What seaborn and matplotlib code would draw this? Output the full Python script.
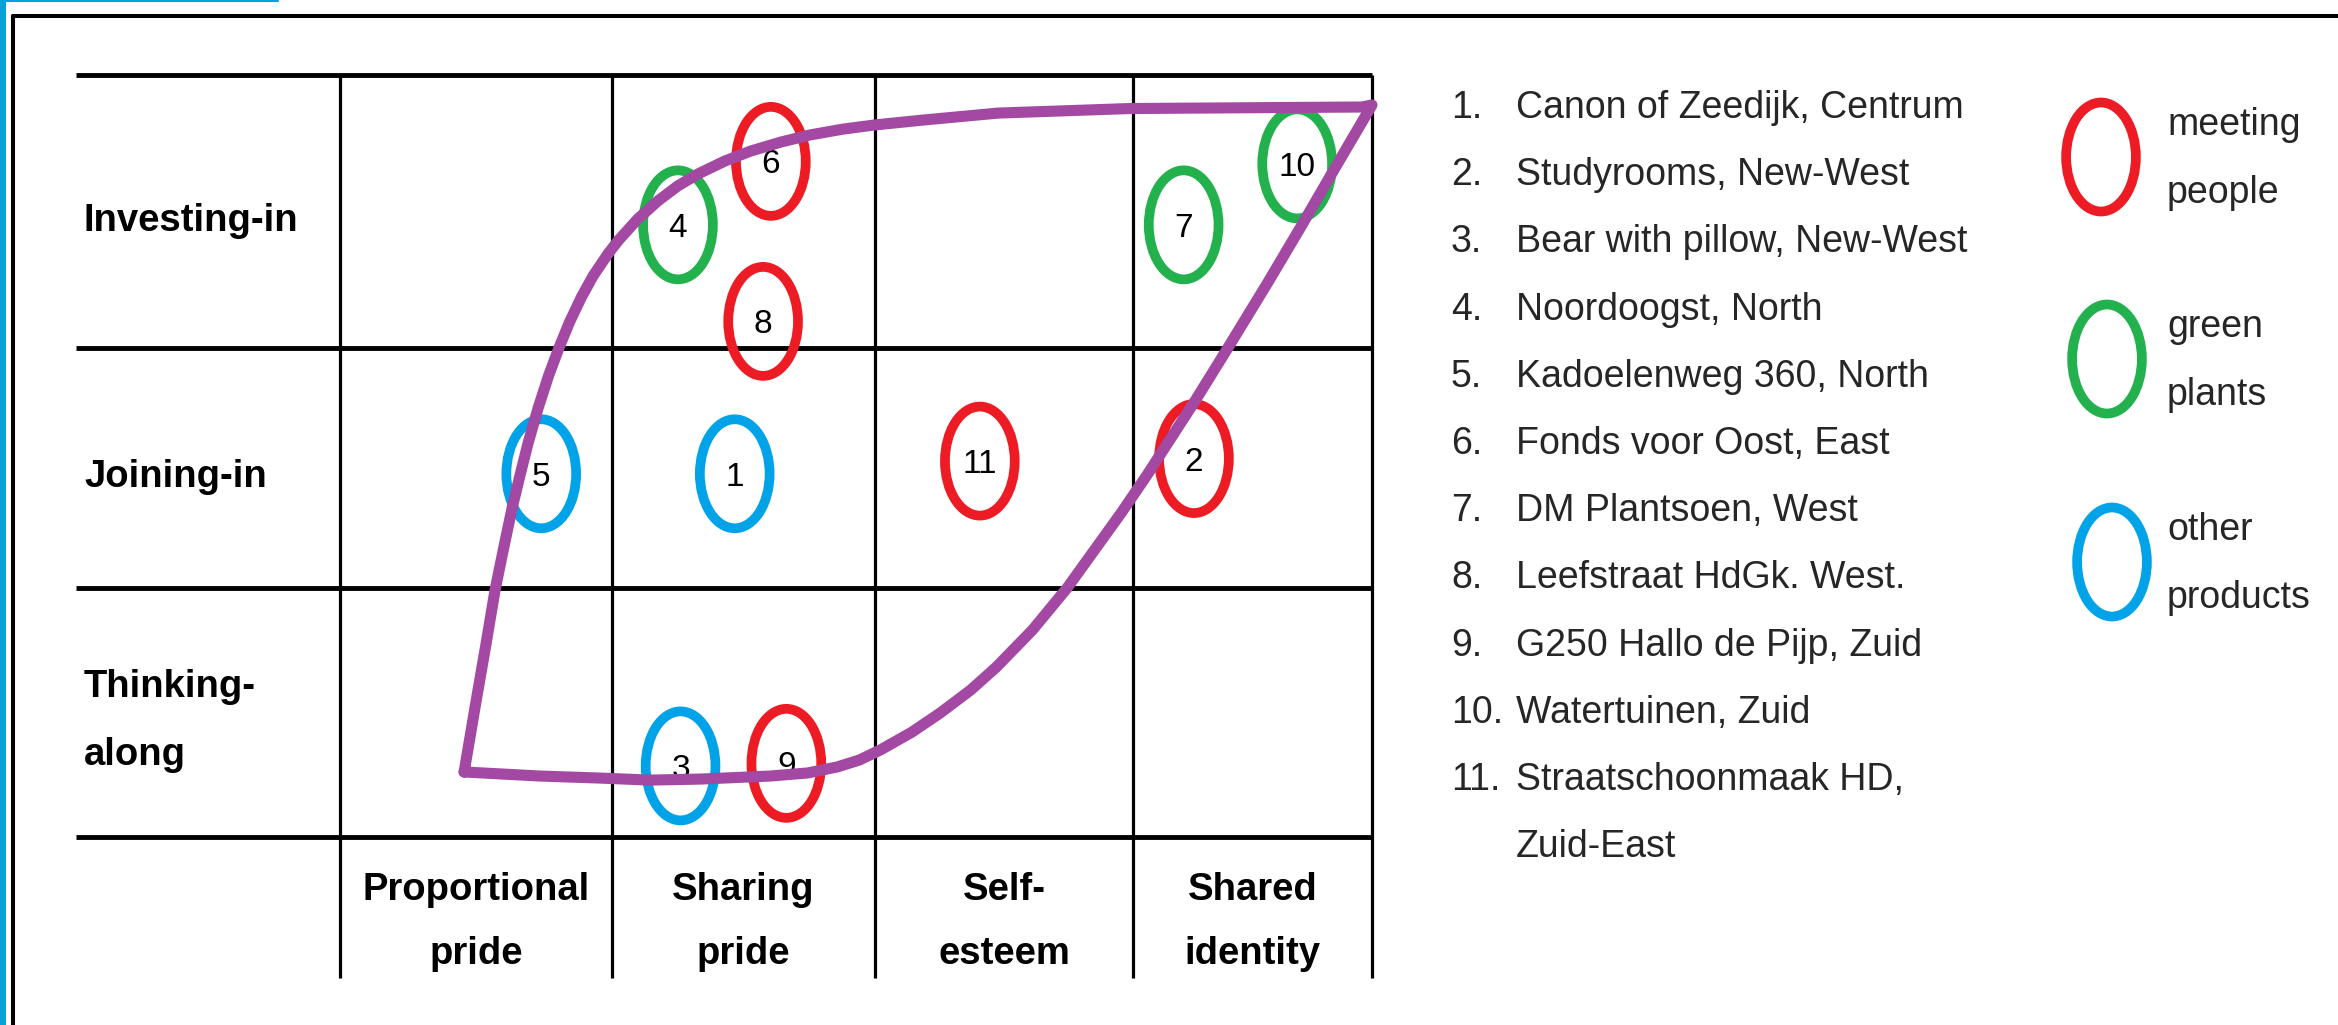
import matplotlib.pyplot as plt
import numpy as np
import pandas as pd
import seaborn as sns
from matplotlib.lines import Line2D
from matplotlib.path import Path
from matplotlib.transforms import Affine2D

# Table categories (rows listed top to bottom).
rows = ["Investing-in", "Joining-in", "Thinking-\nalong"]
columns = ["Proportional\npride", "Sharing\npride", "Self-\nesteem", "Shared\nidentity"]

# Projects: x in column units (0-4), y in row units (0 = bottom of the table).
project_ids = [1, 2, 3, 4, 5, 6, 7, 8, 9, 10, 11]
project_names = [
    "Canon of Zeedijk, Centrum",
    "Studyrooms, New-West",
    "Bear with pillow, New-West",
    "Noordoogst, North",
    "Kadoelenweg 360, North",
    "Fonds voor Oost, East",
    "DM Plantsoen, West",
    "Leefstraat HdGk. West.",
    "G250 Hallo de Pijp, Zuid",
    "Watertuinen, Zuid",
    "Straatschoonmaak HD,\nZuid-East",
]
project_kind = [
    "other products", "meeting people", "other products", "green plants",
    "other products", "meeting people", "green plants", "meeting people",
    "meeting people", "green plants", "meeting people",
]
project_x = [1.53, 3.31, 1.32, 1.31, 0.78, 1.67, 3.27, 1.64, 1.73, 3.71, 2.48]
project_y = [1.43, 1.49, 0.28, 2.41, 1.43, 2.66, 2.41, 2.03, 0.29, 2.65, 1.48]

kinds = ["meeting people", "green plants", "other products"]
kind_labels = ["meeting\npeople", "green\nplants", "other\nproducts"]
palette = {"meeting people": "#ED1C24", "green plants": "#22B14C", "other products": "#00A2E8"}

# Purple outline drawn around the projects (same units as the projects).
outline_x = [0.481, 0.525, 0.564, 0.601, 0.632, 0.667, 0.697, 0.728, 0.768, 0.808,
             0.850, 0.890, 0.936, 0.981, 1.038, 1.080, 1.154, 1.232, 1.309, 1.387,
             1.491, 1.593, 1.709, 1.822, 1.950, 2.070, 2.264, 2.550, 3.062, 3.961,
             4.000,
             3.859, 3.724, 3.595, 3.441, 3.316, 3.128, 3.028, 2.818, 2.684, 2.544,
             2.445, 2.326, 2.217, 2.095, 2.013, 1.928, 1.812, 1.667,
             1.395, 1.202, 1.008, 0.775, 0.481]
outline_y = [0.256, 0.520, 0.748, 0.972, 1.126, 1.295, 1.421, 1.547, 1.689, 1.815,
             1.929, 2.028, 2.126, 2.209, 2.295, 2.350, 2.433, 2.504, 2.563, 2.610,
             2.661, 2.701, 2.736, 2.764, 2.787, 2.803, 2.823, 2.850, 2.868, 2.874,
             2.882,
             2.638, 2.402, 2.181, 1.925, 1.720, 1.425, 1.276, 0.980, 0.815, 0.669,
             0.579, 0.488, 0.413, 0.343, 0.303, 0.276, 0.252, 0.240,
             0.228, 0.224, 0.232, 0.240, 0.256]

# Table layout in the same units.
col_edges = [0.0, 1.054, 2.074, 3.074, 4.0]
row_edges = [0.0, 0.98, 1.925, 3.0]

W, H, DPI = 2338, 1025, 100
X0, XU = 340, 258   # pixel of column edge 0, pixels per column unit
Y0, YU = 837, 254   # pixel of row edge 0, pixels per row unit


def px(x):
    return (x - X0) / XU


def py(y):
    return (Y0 - y) / YU


sns.set_theme(style="white")
plt.rcParams["font.family"] = ["Liberation Sans", "DejaVu Sans"]

fig = plt.figure(figsize=(W / DPI, H / DPI), dpi=DPI)
fig.patch.set_facecolor("white")
ax = fig.add_axes([0, 0, 1, 1])
ax.set_axis_off()

# Table grid.
for v in row_edges:
    ax.plot([px(76), col_edges[-1]], [v, v], color="black", lw=3.5,
            solid_capstyle="butt", zorder=1)
for u in col_edges:
    ax.plot([u, u], [py(978), row_edges[-1]], color="black", lw=2.3,
            solid_capstyle="butt", zorder=1)

for i, label in enumerate(rows):
    center_px = Y0 - (row_edges[2 - i] + row_edges[3 - i]) / 2 * YU
    n_lines = label.count("\n")
    ax.text(px(84), py(center_px + 19 + 33 * n_lines), label, ha="left",
            va="baseline", fontsize=27.5, fontweight="bold", linespacing=2.12,
            color="black")

for j, label in enumerate(columns):
    uc = (col_edges[j] + col_edges[j + 1]) / 2
    ax.text(uc, py(964), label, ha="center", va="baseline", fontsize=27.5,
            fontweight="bold", linespacing=2.0, color="black")

# Project circles (stretched ellipses as in the original).
ellipse = Path.unit_circle().transformed(Affine2D().scale(0.64, 1.0))
df = pd.DataFrame({"x": project_x, "y": project_y, "kind": project_kind})
sns.scatterplot(data=df, x="x", y="y", hue="kind", palette=palette,
                marker=ellipse, s=6160, linewidth=7, legend=False, ax=ax, zorder=3)
pts = ax.collections[-1]
pts.set_edgecolors(pts.get_facecolors())
pts.set_facecolors("none")

for pid, x, y in zip(project_ids, project_x, project_y):
    ax.text(x, y, str(pid), ha="center", va="center_baseline", fontsize=24,
            color="black", zorder=4)

outline = pd.DataFrame({"x": outline_x, "y": outline_y})
sns.lineplot(data=outline, x="x", y="y", sort=False, estimator=None,
             color="#A349A4", lw=8, ax=ax, zorder=5)

# Numbered project list.
line = 0
for pid, name in zip(project_ids, project_names):
    for k, part in enumerate(name.split("\n")):
        yb = py(118 + 67.2 * line)
        if k == 0:
            ax.text(px(1451), yb, f"{pid}.", ha="left", va="baseline", fontsize=27)
        ax.text(px(1516), yb, part, ha="left", va="baseline", fontsize=27)
        line += 1

# Colour key.
key_px = [(2101, 157), (2107, 359), (2112, 562)]
for kind, label, (kx, ky) in zip(kinds, kind_labels, key_px):
    ax.scatter([px(kx)], [py(ky)], marker=ellipse, s=6160, linewidth=7,
               facecolors="none", edgecolors=palette[kind], zorder=3)
    ax.text(px(2167), py(ky + 46), label, ha="left", va="baseline", fontsize=27,
            linespacing=2.16)

ax.set_xlim(px(0), px(W))
ax.set_ylim(py(H), py(0))


# Screenshot frame.
def fx(x):
    return x / W


def fy(y):
    return 1 - y / H


fig.add_artist(Line2D([fx(13), fx(W)], [fy(16), fy(16)], color="black", lw=2.9,
                      transform=fig.transFigure))
fig.add_artist(Line2D([fx(13), fx(13)], [fy(16), fy(H)], color="black", lw=2.9,
                      transform=fig.transFigure))
fig.add_artist(Line2D([fx(3), fx(3)], [fy(0), fy(H)], color="#00A2D8", lw=4.3,
                      transform=fig.transFigure))
fig.add_artist(Line2D([fx(0), fx(278)], [fy(1), fy(1)], color="#00A2D8", lw=1.5,
                      transform=fig.transFigure))

fig.savefig("out.png", dpi=DPI)
plt.close(fig)
